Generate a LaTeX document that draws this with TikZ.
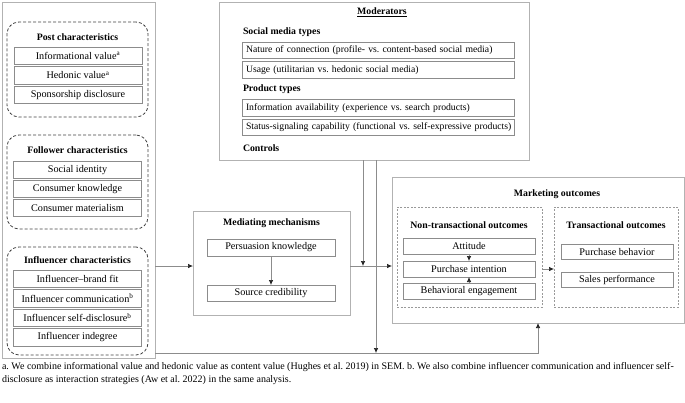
\documentclass[tikz,border=0pt]{standalone}
\usepackage{fontspec}
\setmainfont{Liberation Serif}
\frenchspacing
\usetikzlibrary{arrows.meta}
\begin{document}
\begin{tikzpicture}[x=1pt,y=-1pt,
 every node/.style={font=\fontsize{10.2}{12}\selectfont, inner sep=0pt, outer sep=0pt},
 outerbox/.style={draw=black!30, line width=1pt, anchor=north west},
 grp/.style={draw=black!75, dash pattern=on 3pt off 2pt, rounded corners=12pt, line width=0.8pt, anchor=north west},
 dbox/.style={draw=black!40, dash pattern=on 2pt off 1.5pt, line width=0.6pt, anchor=north west},
 item/.style={draw=black!45, line width=0.6pt, anchor=north west},
 litem/.style={item, align=left, text width=264pt, inner xsep=4pt, minimum height=16.5pt, font=\fontsize{9.7}{12}\selectfont},
 ttl/.style={font=\fontsize{9.8}{12}\selectfont\bfseries},
 arr/.style={draw=black!45, line width=0.7pt, -{Latex[length=5pt,width=4.5pt,black!85]}}
]
\useasboundingbox (0,0) rectangle (685,402);

% ---------- left column ----------
\node[outerbox, minimum width=153pt, minimum height=356pt] (L) at (2,2) {};

\node[grp, minimum width=141pt, minimum height=95pt] (PG) at (7,22) {};
\node[ttl] (PGt) at (77.5,37) {Post characteristics};
\node[item, minimum width=128pt, minimum height=17.5pt] (p1) at (14,47) {Informational value\textsuperscript{a}};
\node[item, minimum width=128pt, minimum height=17.5pt] (p2) at (14,66.5) {Hedonic value\textsuperscript{a}};
\node[item, minimum width=128pt, minimum height=17.5pt] (p3) at (14,86) {Sponsorship disclosure};

\node[grp, minimum width=141pt, minimum height=94pt] (FG) at (7,135) {};
\node[ttl] (FGt) at (77.5,150) {Follower characteristics};
\node[item, minimum width=128pt, minimum height=17.5pt] (f1) at (13.5,161) {Social identity};
\node[item, minimum width=128pt, minimum height=17.5pt] (f2) at (13.5,180) {Consumer knowledge};
\node[item, minimum width=128pt, minimum height=17.5pt] (f3) at (13.5,199) {Consumer materialism};

\node[grp, minimum width=141pt, minimum height=108pt] (IG) at (7,247) {};
\node[ttl] (IGt) at (77.5,260) {Influencer characteristics};
\node[item, minimum width=128pt, minimum height=17.5pt] (i1) at (13.5,270) {Influencer--brand fit};
\node[item, minimum width=128pt, minimum height=17.5pt] (i2) at (13.5,289.5) {Influencer communication\textsuperscript{b}};
\node[item, minimum width=128pt, minimum height=17.5pt] (i3) at (13.5,309) {Influencer self-disclosure\textsuperscript{b}};
\node[item, minimum width=128pt, minimum height=17.5pt] (i4) at (13.5,328.5) {Influencer indegree};

% ---------- mediating ----------
\node[outerbox, minimum width=157pt, minimum height=104pt] (M) at (193,211) {};
\node[ttl] (Mt) at (271.5,223) {Mediating mechanisms};
\node[item, minimum width=128pt, minimum height=17pt] (PK) at (207,239) {Persuasion knowledge};
\node[item, minimum width=128pt, minimum height=16.5pt] (SC) at (207,285) {Source credibility};

% ---------- moderators ----------
\node[outerbox, minimum width=310pt, minimum height=158pt] (Mod) at (219,2) {};
\node[ttl] (Modt) at (382,12) {\underline{Moderators}};
\node[ttl, anchor=west] (smt) at (243,32) {Social media types};
\node[litem] (m1) at (242,42) {Nature of connection (profile- vs. content-based social media)};
\node[litem] (m2) at (242,61.5) {Usage (utilitarian vs. hedonic social media)};
\node[ttl, anchor=west] (prt) at (243,89) {Product types};
\node[litem] (m3) at (242,99.5) {Information availability (experience vs. search products)};
\node[litem] (m4) at (242,119) {\mbox{Status-signaling capability (functional vs. self-expressive products)}};
\node[ttl, anchor=west] (ctl) at (243,148) {Controls};

% ---------- marketing outcomes ----------
\node[outerbox, minimum width=292pt, minimum height=146pt] (MO) at (392,177) {};
\node[ttl] (MOt) at (557,194) {Marketing outcomes};
\node[dbox, minimum width=145pt, minimum height=100pt] (NT) at (397,207) {};
\node[ttl] (NTt) at (469,225) {Non-transactional outcomes};
\node[item, minimum width=132pt, minimum height=16pt] (ATT) at (403,238) {Attitude};
\node[item, minimum width=132pt, minimum height=16pt] (PI) at (403,261) {Purchase intention};
\node[item, minimum width=132pt, minimum height=16pt] (BE) at (403,283) {Behavioral engagement};
\node[dbox, minimum width=124pt, minimum height=100pt] (TR) at (554,207) {};
\node[ttl] (TRt) at (616,225) {Transactional outcomes};
\node[item, minimum width=112pt, minimum height=15.5pt] (PB) at (561,244) {Purchase behavior};
\node[item, minimum width=112pt, minimum height=15.5pt] (SP) at (561,272) {Sales performance};

% ---------- connectors ----------
\coordinate (mline) at (363,266);
\coordinate (bline) at (376,353);
\draw[arr] (L.east |- mline) -- (M.west |- mline);
\draw[arr] (M.east |- mline) -- (MO.west |- mline);
\draw[arr] (Mod.south -| mline) -- (mline);
\draw[arr] (Mod.south -| bline) -- (bline);
\draw[arr] (L.east |- bline) -| (MO.south);
\draw[arr] (PK.south) -- (SC.north);
\draw[arr] (ATT.south) -- (PI.north);
\draw[arr] (BE.north) -- (PI.south);
\draw[arr] (NT.east |- PI.center) -- (TR.west |- PI.center);

% ---------- footnote ----------
\node[anchor=north west, align=left, font=\fontsize{10}{13.5}\selectfont] (fn) at (2,362)
 {a. We combine informational value and hedonic value as content value (Hughes et al. 2019) in SEM. b. We also combine influencer communication and influencer self-\\
 disclosure as interaction strategies (Aw et al. 2022) in the same analysis.};
\end{tikzpicture}
\end{document}
